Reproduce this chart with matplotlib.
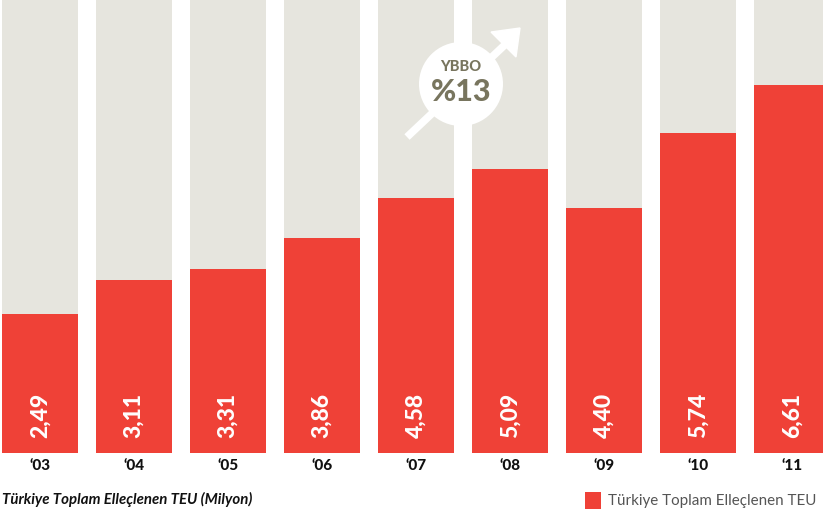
import matplotlib.pyplot as plt
from matplotlib.patches import Circle, Polygon, Rectangle

# TEU handled in Turkey, millions
years = ["\u201803", "\u201804", "\u201805", "\u201806", "\u201807",
         "\u201808", "\u201809", "\u201810", "\u201811"]
teu = [2.49, 3.11, 3.31, 3.86, 4.58, 5.09, 4.40, 5.74, 6.61]
value_labels = ["2,49", "3,11", "3,31", "3,86", "4,58", "5,09", "4,40", "5,74", "6,61"]
cagr_label = "%13"

RED = "#ef4137"
GREY_BG = "#e6e5de"
OLIVE = "#78755e"
Y_TOP = 8.13

plt.rcParams["font.family"] = ["Lato", "DejaVu Sans"]

fig = plt.figure(figsize=(8.23, 5.17), dpi=100)
fig.patch.set_facecolor("white")
ax = fig.add_axes([0, 64 / 517, 1, 453 / 517])

x = list(range(len(teu)))
width = 76 / 94
ax.bar(x, [Y_TOP] * len(teu), width=width, color=GREY_BG, zorder=1)
ax.bar(x, teu, width=width, color=RED, zorder=2)

for xi, lab in zip(x, value_labels):
    ax.text(xi, 0.68, lab, rotation=90, ha="center", va="center",
            color="white", fontsize=16.5, fontweight="black", zorder=3)

ax.set_xlim(-40 / 94, (823 - 40) / 94)
ax.set_ylim(0, Y_TOP)
ax.set_xticks(x)
ax.set_xticklabels(years, fontsize=11, fontweight="black", color="#111111")
ax.tick_params(axis="x", length=0, pad=4)
ax.set_yticks([])
for s in ax.spines.values():
    s.set_visible(False)

# overlay in pixel units for the badge, caption and legend
ov = fig.add_axes([0, 0, 1, 1], facecolor="none")
ov.set_xlim(0, 823)
ov.set_ylim(517, 0)
ov.axis("off")

# growth arrow behind the badge
ov.plot([407, 510], [137, 40], color="white", lw=5.5, solid_capstyle="butt", zorder=4)
ov.add_patch(Polygon([[520, 28], [491, 32], [516, 57]], closed=True,
                     facecolor="white", edgecolor="white", lw=1, zorder=4))
ov.add_patch(Circle((461, 84), 42, facecolor="white", edgecolor="none", zorder=5))
ov.text(461, 67, "YBBO", ha="center", va="center", fontsize=10.5,
        fontweight="black", color=OLIVE, zorder=6)
ov.text(461, 92, cagr_label, ha="center", va="center", fontsize=22,
        fontweight="black", color=OLIVE, zorder=6)

ov.text(2, 499, "Türkiye Toplam Elleçlenen TEU (Milyon)", ha="left", va="center",
        fontsize=10.8, fontweight="bold", fontstyle="italic", color="#111111")

ov.add_patch(Rectangle((585, 492), 16, 17, facecolor=RED, edgecolor="none"))
ov.text(608, 501, "Türkiye Toplam Elleçlenen TEU", ha="left", va="center",
        fontsize=10.9, color="#555555")

fig.savefig("out.png", dpi=100)
